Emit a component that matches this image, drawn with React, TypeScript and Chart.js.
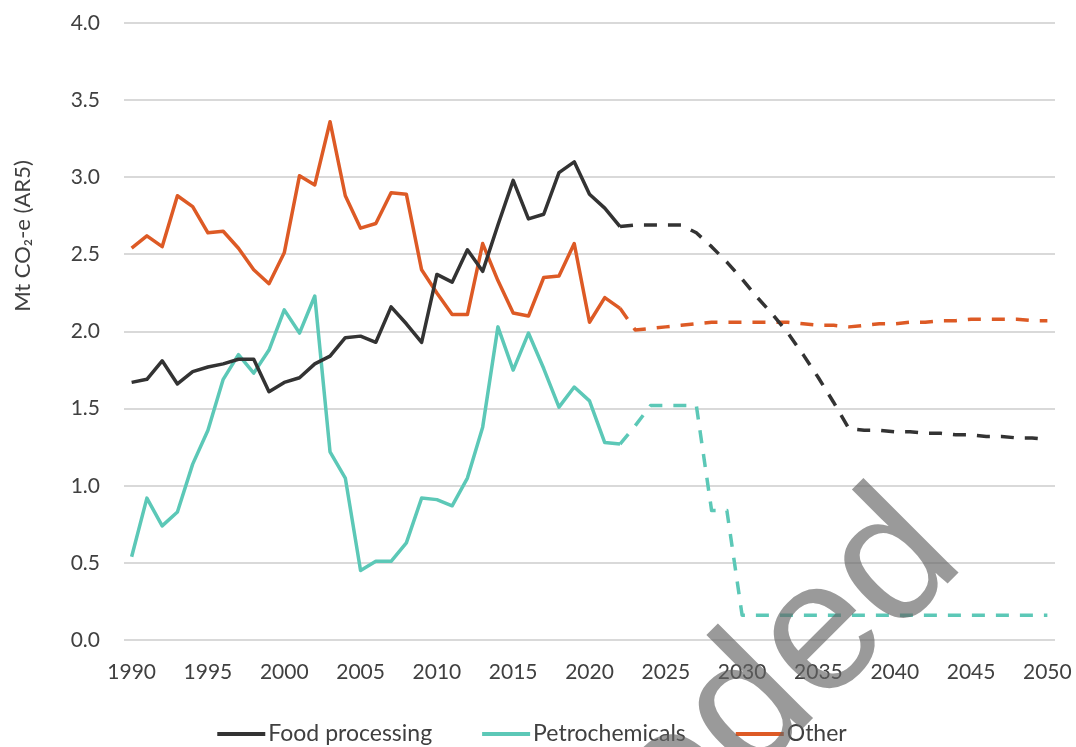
import React, { useEffect, useRef } from "react";
import { Chart, registerables } from "chart.js";

Chart.register(...registerables);

const years = [
  1990, 1991, 1992, 1993, 1994, 1995, 1996, 1997, 1998, 1999,
  2000, 2001, 2002, 2003, 2004, 2005, 2006, 2007, 2008, 2009,
  2010, 2011, 2012, 2013, 2014, 2015, 2016, 2017, 2018, 2019,
  2020, 2021, 2022, 2023, 2024, 2025, 2026, 2027, 2028, 2029,
  2030, 2031, 2032, 2033, 2034, 2035, 2036, 2037, 2038, 2039,
  2040, 2041, 2042, 2043, 2044, 2045, 2046, 2047, 2048, 2049,
  2050,
];

const xTickYears = [1990, 1995, 2000, 2005, 2010, 2015, 2020, 2025, 2030, 2035, 2040, 2045, 2050];

// 1990-2022 (solid)
const foodHistory = [
  1.67, 1.69, 1.81, 1.66, 1.74, 1.77, 1.79, 1.82, 1.82, 1.61,
  1.67, 1.70, 1.79, 1.84, 1.96, 1.97, 1.93, 2.16, 2.05, 1.93,
  2.37, 2.32, 2.53, 2.39, 2.69, 2.98, 2.73, 2.76, 3.03, 3.10,
  2.89, 2.80, 2.68,
];
// 2023-2050 (dashed)
const foodProjection = [
  2.69, 2.69, 2.69, 2.69, 2.64, 2.55, 2.45, 2.34, 2.22, 2.11,
  1.99, 1.85, 1.70, 1.54, 1.37, 1.36, 1.36, 1.35, 1.35, 1.34,
  1.34, 1.33, 1.33, 1.32, 1.32, 1.31, 1.31, 1.30,
];

const petroHistory = [
  0.54, 0.92, 0.74, 0.83, 1.14, 1.36, 1.69, 1.85, 1.73, 1.88,
  2.14, 1.99, 2.23, 1.22, 1.05, 0.45, 0.51, 0.51, 0.63, 0.92,
  0.91, 0.87, 1.05, 1.38, 2.03, 1.75, 1.99, 1.76, 1.51, 1.64,
  1.55, 1.28, 1.27,
];
const petroProjection = [
  1.39, 1.52, 1.52, 1.52, 1.52, 0.84, 0.84, 0.16, 0.16, 0.16,
  0.16, 0.16, 0.16, 0.16, 0.16, 0.16, 0.16, 0.16, 0.16, 0.16,
  0.16, 0.16, 0.16, 0.16, 0.16, 0.16, 0.16, 0.16,
];

const otherHistory = [
  2.54, 2.62, 2.55, 2.88, 2.81, 2.64, 2.65, 2.54, 2.40, 2.31,
  2.51, 3.01, 2.95, 3.36, 2.88, 2.67, 2.70, 2.90, 2.89, 2.40,
  2.25, 2.11, 2.11, 2.57, 2.33, 2.12, 2.10, 2.35, 2.36, 2.57,
  2.06, 2.22, 2.15,
];
const otherProjection = [
  2.01, 2.02, 2.03, 2.04, 2.05, 2.06, 2.06, 2.06, 2.06, 2.06,
  2.06, 2.05, 2.04, 2.04, 2.03, 2.04, 2.05, 2.05, 2.06, 2.06,
  2.07, 2.07, 2.08, 2.08, 2.08, 2.08, 2.07, 2.07,
];

const seriesNames = ["Food processing", "Petrochemicals", "Other"];
const seriesColors = ["#333333", "#5cc8b7", "#dd5a25"];
const yAxisTitle = "Mt CO\u2082-e (AR5)";
const watermarkText = "Superseded";

const FONT = "Lato";
const TEXT_COLOR = "#404040";

export default function App() {
  const ref = useRef<HTMLCanvasElement | null>(null);

  useEffect(() => {
    const canvas = ref.current;
    if (!canvas) return;
    const dash = [13, 11];

    const makeDataset = (label: string, color: string, hist: number[], proj: number[]) => ({
      label,
      data: [...hist, ...proj],
      borderColor: color,
      backgroundColor: color,
      borderWidth: 3.5,
      pointRadius: 0,
      pointHoverRadius: 0,
      tension: 0,
      fill: false,
      borderJoinStyle: "round" as const,
      segment: {
        borderDash: (ctx: any) => (ctx.p0DataIndex >= hist.length - 1 ? dash : undefined),
      },
    });

    const overlay = {
      id: "overlay",
      afterDraw(chart: any) {
        const ctx = chart.ctx as CanvasRenderingContext2D;
        // y-axis title
        ctx.save();
        ctx.translate(23, 236);
        ctx.rotate(-Math.PI / 2);
        ctx.font = `22px ${FONT}`;
        ctx.fillStyle = TEXT_COLOR;
        ctx.textAlign = "center";
        ctx.textBaseline = "middle";
        ctx.fillText(yAxisTitle, 0, 0);
        ctx.restore();

        // legend
        ctx.save();
        ctx.font = `23px ${FONT}`;
        const swatch = 48;
        const swGap = 3;
        const itemGap = 50;
        const widths = seriesNames.map((n) => swatch + swGap + ctx.measureText(n).width);
        const total = widths.reduce((a, b) => a + b, 0) + itemGap * (seriesNames.length - 1);
        let x = 532 - total / 2;
        const ly = 734;
        seriesNames.forEach((name, i) => {
          ctx.strokeStyle = seriesColors[i];
          ctx.lineWidth = 4;
          ctx.lineCap = "butt";
          ctx.beginPath();
          ctx.moveTo(x, ly);
          ctx.lineTo(x + swatch, ly);
          ctx.stroke();
          ctx.fillStyle = TEXT_COLOR;
          ctx.textAlign = "left";
          ctx.textBaseline = "middle";
          ctx.fillText(name, x + swatch + swGap, ly);
          x += widths[i] + itemGap;
        });
        ctx.restore();

        // watermark
        ctx.save();
        ctx.translate(967, 564);
        ctx.rotate(-Math.PI / 4);
        ctx.font = `185px "Liberation Sans"`;
        ctx.fillStyle = "rgba(100,100,100,0.65)";
        ctx.textAlign = "right";
        ctx.textBaseline = "alphabetic";
        ctx.fillText(watermarkText, 0, 0);
        ctx.restore();
      },
    };

    const chart = new Chart(canvas, {
      type: "line",
      data: {
        labels: years.map(String),
        datasets: [
          makeDataset(seriesNames[0], seriesColors[0], foodHistory, foodProjection),
          makeDataset(seriesNames[1], seriesColors[1], petroHistory, petroProjection),
          makeDataset(seriesNames[2], seriesColors[2], otherHistory, otherProjection),
        ],
      },
      options: {
        animation: false,
        responsive: false,
        devicePixelRatio: 1,
        layout: { padding: { top: 23, right: 21, left: 0, bottom: 0 } },
        plugins: {
          legend: { display: false },
          tooltip: { enabled: false },
        },
        scales: {
          x: {
            type: "category",
            offset: true,
            grid: { display: false },
            border: { display: false },
            ticks: {
              autoSkip: false,
              maxRotation: 0,
              minRotation: 0,
              padding: 12,
              color: TEXT_COLOR,
              font: { family: FONT, size: 21 },
              callback: (_v: any, i: number) =>
                xTickYears.includes(years[i]) ? String(years[i]) : "",
            },
            afterFit: (scale: any) => {
              scale.height = 107;
              scale.paddingLeft = 0;
              scale.paddingRight = 0;
            },
          },
          y: {
            min: 0,
            max: 4,
            grid: { color: "#d9d9d9", lineWidth: 2, drawTicks: false },
            border: { display: false },
            ticks: {
              stepSize: 0.5,
              padding: 24,
              color: TEXT_COLOR,
              font: { family: FONT, size: 21 },
              callback: (v: any) => Number(v).toFixed(1),
            },
            afterFit: (scale: any) => {
              scale.width = 124;
              scale.paddingTop = 0;
              scale.paddingBottom = 0;
            },
          },
        },
      },
      plugins: [overlay],
    });

    return () => chart.destroy();
  }, []);

  return (
    <div style={{ position: "fixed", left: 0, top: 0, width: 1076, height: 747, background: "#fff" }}>
      <canvas ref={ref} width={1076} height={747} style={{ display: "block" }} />
    </div>
  );
}
